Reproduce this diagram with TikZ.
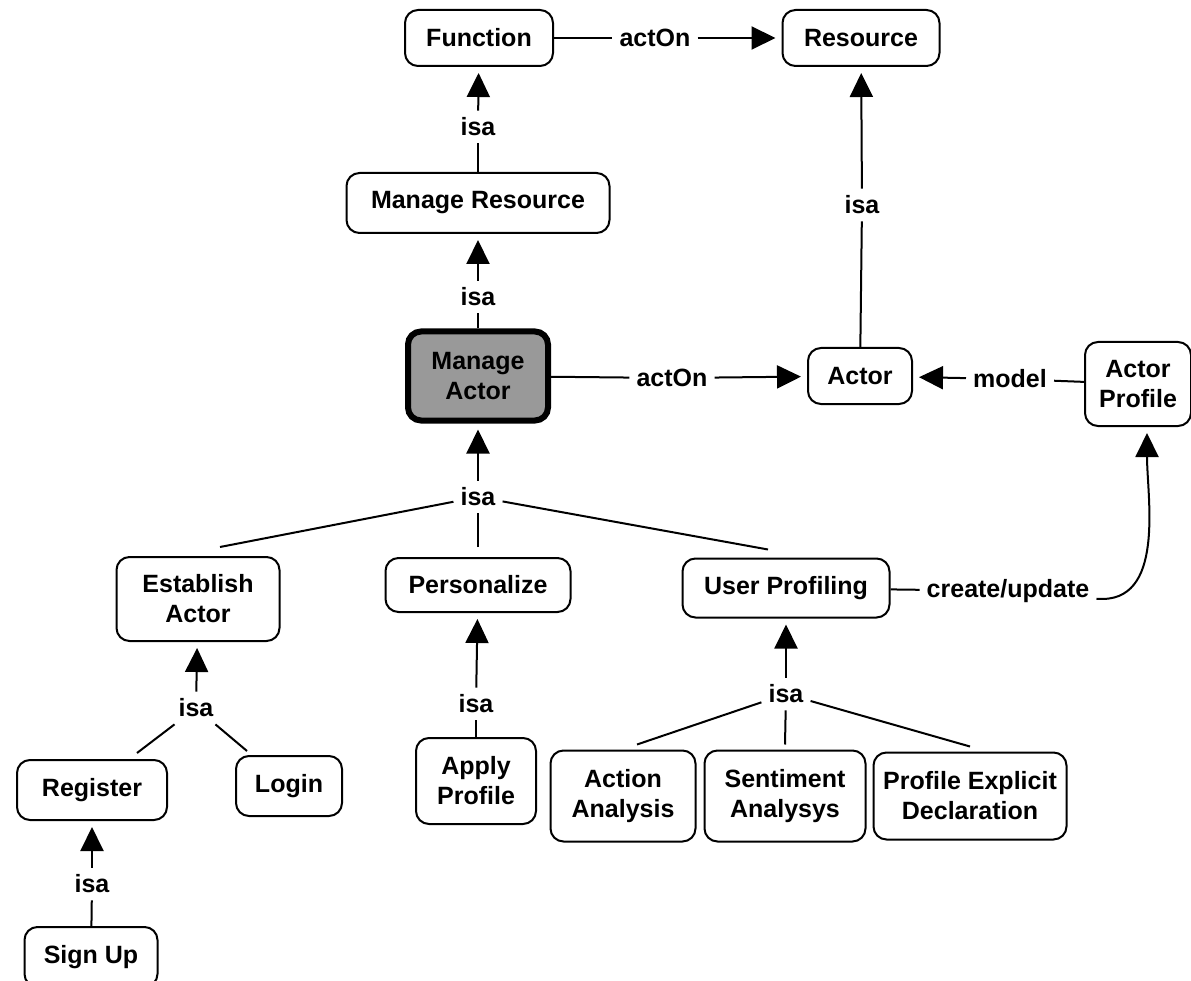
\documentclass[tikz,border=0pt]{standalone}
\usepackage{fontspec}
\setmainfont{Liberation Sans}
\usetikzlibrary{arrows.meta}

\begin{document}
\begin{tikzpicture}[
      x=1pt, y=-1pt,
      every node/.style={font=\fontsize{25}{30}\selectfont\bfseries},
      concept/.style={rectangle, draw=black, line width=2pt, rounded corners=13pt, fill=white, align=center, inner sep=0pt},
      focus/.style={concept, line width=6pt, fill=black!40},
      link/.style={inner sep=7pt},
      conn/.style={line width=2pt},
      arrow/.style={conn, -{Triangle[length=24pt, width=23pt]}, shorten >=6pt},
    ]
    \useasboundingbox (0,0) rectangle (1191,981);

    \node[concept, minimum width=148pt, minimum height=56pt] (func) at (479,38) {Function};
    \node[concept, minimum width=157pt, minimum height=56pt] (res) at (861,38) {Resource};
    \node[concept, minimum width=263pt, minimum height=60pt] (mres) at (478,203) {Manage Resource};
    \node[focus, minimum width=140pt, minimum height=89pt] (mact) at (478,376) {Manage\\Actor};
    \node[concept, minimum width=104pt, minimum height=56pt] (actor) at (860,376) {Actor};
    \node[concept, minimum width=106pt, minimum height=84pt] (aprof) at (1138,384) {Actor\\Profile};
    \node[concept, minimum width=163pt, minimum height=84pt] (est) at (198,599) {Establish\\Actor};
    \node[concept, minimum width=185pt, minimum height=54pt] (pers) at (478,585) {Personalize};
    \node[concept, minimum width=207pt, minimum height=59pt] (uprof) at (786,588) {User Profiling};
    \node[concept, minimum width=150pt, minimum height=60pt] (reg) at (92,790) {Register};
    \node[concept, minimum width=106pt, minimum height=60pt] (login) at (289,786) {Login};
    \node[concept, minimum width=120pt, minimum height=86pt] (apply) at (476,781) {Apply\\Profile};
    \node[concept, minimum width=145pt, minimum height=91pt] (action) at (623,796) {Action\\Analysis};
    \node[concept, minimum width=161pt, minimum height=91pt] (sent) at (785,796) {Sentiment\\Analysys};
    \node[concept, minimum width=193pt, minimum height=87pt] (expl) at (970,796) {Profile Explicit\\Declaration};
    \node[concept, minimum width=133pt, minimum height=60pt] (signup) at (91,957) {Sign Up};

    \node[link] (act1) at (655,38) {actOn};
    \node[link] (isa1) at (478,127) {isa};
    \node[link] (isa2) at (478,297) {isa};
    \node[link] (isa3) at (862,205) {isa};
    \node[link] (act2) at (672,378) {actOn};
    \node[link] (model) at (1010,379) {model};
    \node[link] (isa4) at (478,497) {isa};
    \node[link] (cu) at (1008,591) {create/update};
    \node[link] (isa5) at (196,708) {isa};
    \node[link] (isa6) at (476,704) {isa};
    \node[link] (isa7) at (786,694) {isa};
    \node[link] (isa8) at (92,884) {isa};

    \draw[conn] (func) -- (act1);
    \draw[arrow] (act1) -- (res);
    \draw[conn] (mres) -- (isa1);
    \draw[arrow] (isa1) -- (func);
    \draw[conn] (mact) -- (isa2);
    \draw[arrow] (isa2) -- (mres);
    \draw[conn] (actor) -- (isa3);
    \draw[arrow] (isa3) -- (res);
    \draw[conn] (mact) -- (act2);
    \draw[arrow] (act2) -- (actor);
    \draw[conn] (aprof) -- (model);
    \draw[arrow] (model) -- (actor);

    \draw[arrow] (isa4) -- (mact);
    \draw[conn] ([xshift=22pt, yshift=9pt]est.north) -- (isa4);
    \draw[conn] ([yshift=10pt]pers.north) -- (isa4);
    \draw[conn] ([xshift=-18pt, yshift=8pt]uprof.north) -- (isa4);

    \draw[conn] (uprof) -- (cu);
    \draw[arrow] (cu) to[out=-5, in=-90] ([xshift=9pt]aprof.south);

    \draw[arrow] (isa5) -- (est);
    \draw[conn] ([xshift=45pt, yshift=6pt]reg.north) -- (isa5);
    \draw[conn] ([xshift=-42pt, yshift=4pt]login.north) -- (isa5);

    \draw[arrow] (isa6) -- (pers);
    \draw[conn] (apply) -- (isa6);

    \draw[arrow] (isa7) -- (uprof);
    \draw[conn] ([xshift=14pt, yshift=5pt]action.north) -- (isa7);
    \draw[conn] ([yshift=5pt]sent.north) -- (isa7);
    \draw[conn] ([yshift=5pt]expl.north) -- (isa7);

    \draw[arrow] (isa8) -- (reg);
    \draw[conn] (signup) -- (isa8);
  \end{tikzpicture}
\end{document}
